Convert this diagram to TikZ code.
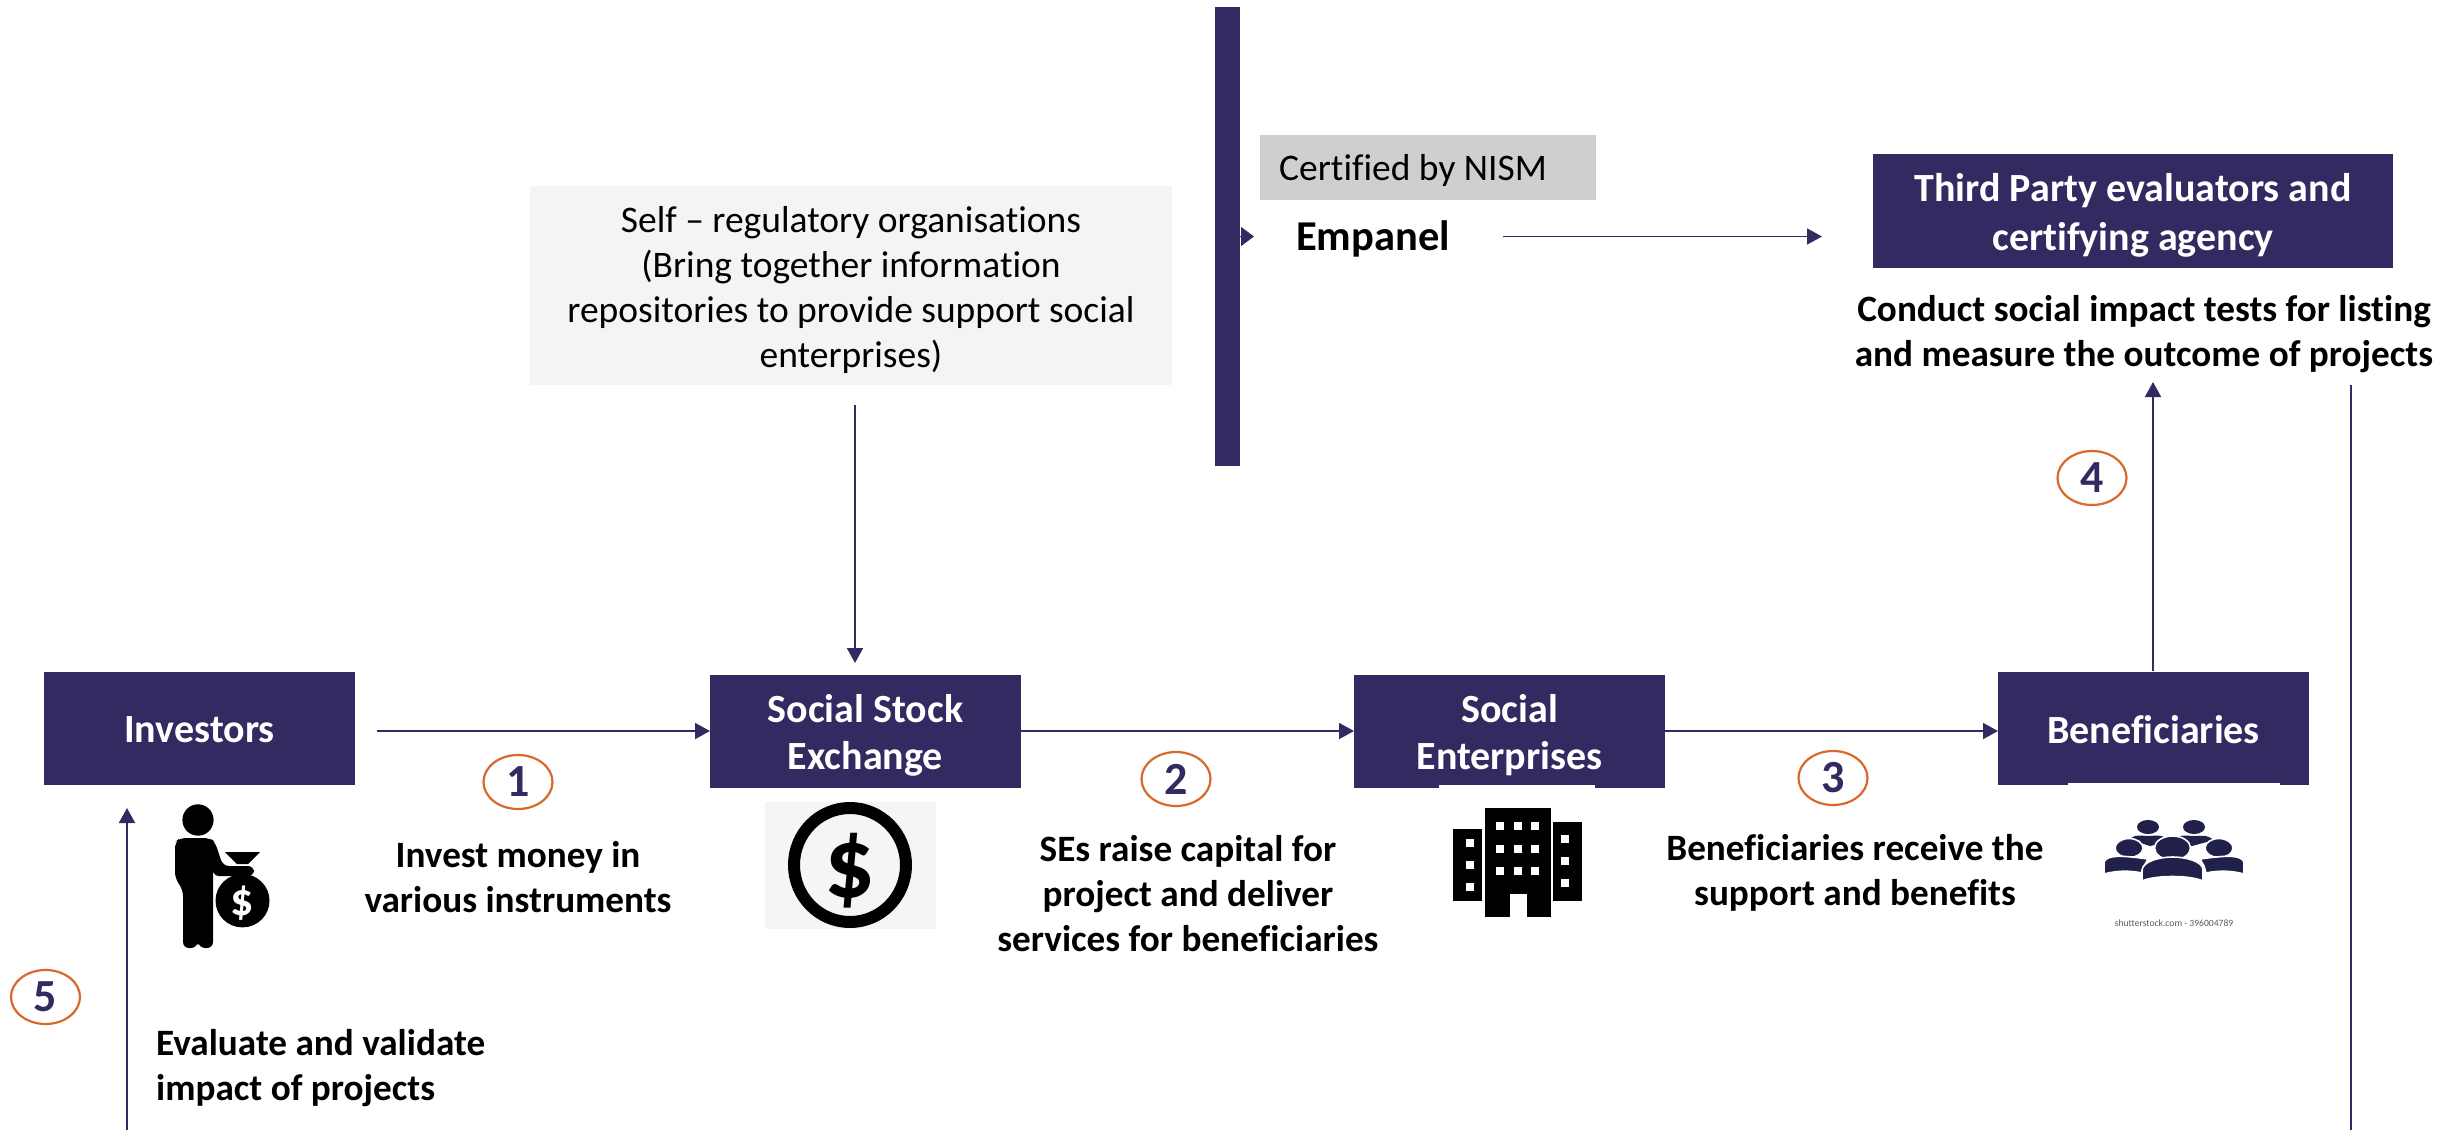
\documentclass[tikz,border=0pt]{standalone}
\usepackage{fontspec}
\setmainfont{Carlito}[Ligatures=NoCommon]
\usetikzlibrary{arrows.meta,shapes.geometric}
\definecolor{navy}{HTML}{342A62}
\definecolor{orng}{HTML}{D9682B}
\definecolor{icondark}{HTML}{20204A}
\newcommand{\fs}[2]{\fontsize{#1}{#2}\selectfont}
\tikzset{
  x=1pt,y=-1pt,
  navybox/.style={fill=navy,inner sep=0pt,outer sep=0pt},
  boxtext/.style={text=white,inner sep=0pt,align=center,font=\fs{40}{47}\bfseries},
  lab/.style={inner sep=0pt,align=center,font=\fs{37.2}{45}\bfseries,text=black},
  reg/.style={inner sep=0pt,align=center,font=\fs{37.5}{45},text=black},
  badge/.style={ellipse,draw=orng,line width=2.2pt,fill=white,minimum width=69,minimum height=54,inner sep=0pt,text=navy,font=\fs{46}{46}\bfseries},
  flow/.style={draw=navy,line width=1.8pt,-{Triangle[length=15pt,width=16pt]}},
  plainline/.style={draw=navy,line width=1.8pt},
  person/.style={fill=icondark,draw=white,line width=1.6pt},
}
\begin{document}
\begin{tikzpicture}
\useasboundingbox (0,0) rectangle (2445,1130);
% boxes
\node[navybox,minimum width=311,minimum height=113] (inv) at (199.5,728) {};
\node[navybox,minimum width=311,minimum height=113] (sse) at (865.5,731) {};
\node[navybox,minimum width=311,minimum height=113] (se) at (1509.5,731) {};
\node[navybox,minimum width=311,minimum height=113] (ben) at (2153.5,728) {};
\node[navybox,minimum width=520,minimum height=114] (tp) at (2133,211) {};
\node[boxtext] (invtext) at (199.5,730) {Investors};
\node[boxtext] (ssetext) at (865.5,735) {Social Stock\\Exchange};
\node[boxtext] (setext) at (1509.5,735) {Social\\Enterprises};
\node[boxtext] (bentext) at (2153.5,730) {Beneficiaries};
\node[boxtext,font=\fs{40}{49}\bfseries] (tptext) at (2133,215) {Third Party evaluators and\\certifying agency};
\node[fill=navy,inner sep=0pt,minimum width=25,minimum height=459] (bar) at (1227.5,236.5) {};
\node[fill=black!4.5,inner sep=0pt,minimum width=642,minimum height=199] (sro) at (851,285.5) {};
\node[reg] (srotext) at (851,289.5) {Self – regulatory organisations\\(Bring together information\\repositories to provide support social\\enterprises)};
\node[fill=black!19,inner sep=0pt,minimum width=336,minimum height=65] (nism) at (1428,167.5) {};
\node[reg,anchor=west] (nismtext) at (1279,170) {Certified by NISM};
\node[lab,font=\fs{42.5}{45}\bfseries] (emp) at (1373,239) {Empanel};
% white strips under two boxes
\fill[white] (1439,784.5) rectangle (1595,788.5);
\fill[white] (2068,782.5) rectangle (2280,786);
% labels
\node[lab] (l1) at (518,877) {Invest money in\\various instruments};
\node[lab] (l2) at (1188,894) {SEs raise capital for\\project and deliver\\services for beneficiaries};
\node[lab] (l3) at (1855,873) {Beneficiaries receive the\\support and benefits};
\node[lab] (l4) at (2144,334) {Conduct social impact tests for listing\\and measure the outcome of projects};
\node[lab,anchor=west,align=left] (l5) at (156,1068) {Evaluate and validate\\impact of projects};
% connectors
\coordinate (invstart) at (377,731);
\coordinate (srofoot) at (855,405);
\coordinate (ssetop) at (855,663);
\coordinate (empstart) at (1503,236.5);
\coordinate (empend) at (1822,236.5);
\coordinate (barend) at (1254,236.5);
\coordinate (benup) at (2153,382);
\coordinate (benfoot) at (2153,671);
\coordinate (rtop) at (2351,385);
\coordinate (rbot) at (2351,1130);
\coordinate (lbot) at (127,1130);
\coordinate (ltop) at (127,808);
\draw[flow] (invstart) -- (sse.west);
\draw[flow] (sse.east) -- (se.west);
\draw[flow] (se.east) -- (se.east -| ben.west);
\draw[flow] (srofoot) -- (ssetop);
\draw[flow] (empstart) -- (empend);
\draw[flow,-{Triangle[length=13pt,width=19pt]}] (bar.east |- barend) -- (barend);
\draw[flow] (benfoot) -- (benup);
\draw[plainline] (rtop) -- (rbot);
\draw[flow] (lbot) -- (ltop);
% badges
\node[badge] (b1) at (518,782) {1};
\node[badge] (b2) at (1176,779) {2};
\node[badge] (b3) at (1833,778) {3};
\node[badge] (b4) at (2092,478) {4};
\node[badge] (b5) at (45.5,997) {5};
% investor icon
\fill[black] (198,820) ellipse [x radius=15.6,y radius=15.7];
\fill[black,rounded corners=6pt] (175,842) -- (180,838) -- (210,838) -- (215,842) -- (223,866) -- (254,866) -- (254,876) -- (213,876) -- (213,875) -- (213,948) -- (199,948) -- (198,940) -- (197,948) -- (183,948) -- (183,890) -- (175,878) -- cycle;
\fill[black] (225,852) -- (260,852) -- (248,864) -- (237,864) -- cycle;
\fill[black] (242.5,900.7) ellipse [x radius=27,y radius=26.7];
\node[inner sep=0pt,text=white,font=\fs{46}{46}\bfseries] (bag) at (242.5,903) {\$};
% dollar icon
\node[fill=black!4,inner sep=0pt,minimum width=171,minimum height=127] (dollarbg) at (850.7,865.5) {};
\draw[black,line width=12pt] (850,865) ellipse [x radius=56,y radius=57];
\node[inner sep=0pt,text=black,font=\fs{100}{100}\bfseries] (dollar) at (850,871) {\$};
% building icon
\fill[black] (1485,808) rectangle (1551,917);
\fill[black] (1453,829) rectangle (1482,901);
\fill[black] (1553,822) rectangle (1582,901);
\fill[white] (1509.5,894) rectangle (1527,917);
\foreach \wx in {1500,1517.5,1535}{\foreach \wy in {826,849,871}{\fill[white] (\wx-4,\wy-4) rectangle (\wx+4,\wy+4);}}
\foreach \wy in {843,865,887}{\fill[white] (1466,\wy-4) rectangle (1474,\wy+4);}
\foreach \wy in {839,861,883}{\fill[white] (1560.5,\wy-4) rectangle (1568.5,\wy+4);}
% people icon
\fill[icondark] (2148,827) ellipse [x radius=11,y radius=7];
\fill[icondark] (2194,827) ellipse [x radius=11,y radius=7];
\fill[icondark] (2131,838) .. controls (2136,834) and (2142,836) .. (2148,836) .. controls (2154,836) and (2160,834) .. (2166,838) -- (2166,842) -- (2150,846) -- (2132,840) -- cycle;
\fill[icondark] (2176,838) .. controls (2182,834) and (2188,836) .. (2194,836) .. controls (2200,836) and (2206,834) .. (2214,840) -- (2192,846) -- (2178,842) -- cycle;
\path[person] (2129,848) ellipse [x radius=14,y radius=9.5];
\path[person] (2219,848) ellipse [x radius=14,y radius=9.5];
\path[person] (2104,874) -- (2104,862) .. controls (2107,855) and (2120,855) .. (2148,859) -- (2144,866) -- (2142,873) .. controls (2128,870) and (2115,871) .. (2104,874) -- cycle;
\path[person] (2244,874) -- (2244,862) .. controls (2241,855) and (2228,855) .. (2200,859) -- (2204,866) -- (2206,873) .. controls (2220,870) and (2233,871) .. (2244,874) -- cycle;
\path[person] (2172.5,848) ellipse [x radius=18,y radius=12];
\path[person] (2142,881) -- (2142,870) .. controls (2143,861) and (2160,857) .. (2172.5,857) .. controls (2185,857) and (2203,861) .. (2203,870) -- (2203,881) .. controls (2190,875) and (2155,875) .. (2142,881) -- cycle;
\node[inner sep=0pt,text=black!65,font=\fs{9.6}{10}] (stock) at (2174,923) {shutterstock.com - 396004789};
\end{tikzpicture}
\end{document}
